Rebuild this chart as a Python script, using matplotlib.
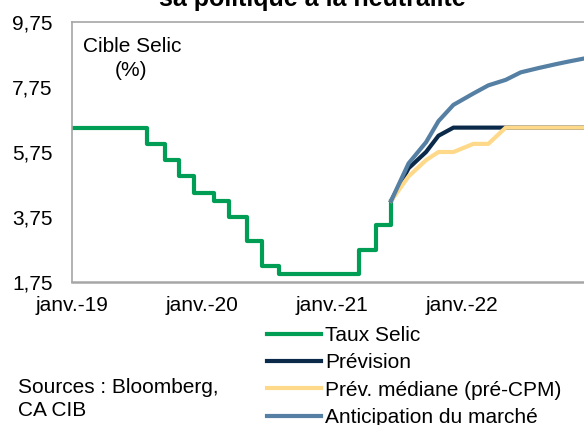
import matplotlib.pyplot as plt
import pandas as pd

plt.rcParams['font.family'] = ['Liberation Sans', 'DejaVu Sans']

# Taux Selic (decisions du Copom, en escalier)
selic_dates = ['2019-01-01', '2019-07-31', '2019-09-18', '2019-10-30', '2019-12-11',
               '2020-02-05', '2020-03-18', '2020-05-06', '2020-06-17', '2020-08-05',
               '2021-03-17', '2021-05-05', '2021-06-16']
selic = [6.5, 6.0, 5.5, 5.0, 4.5, 4.25, 3.75, 3.0, 2.25, 2.0, 2.75, 3.5, 4.25]

# Trajectoires futures aux dates de reunions
fc_dates = ['2021-06-16', '2021-08-04', '2021-09-22', '2021-10-27', '2021-12-08',
            '2022-02-02', '2022-03-16', '2022-05-04', '2022-06-15', '2022-08-03',
            '2022-09-21', '2022-10-26', '2022-12-07']
prevision = [4.25, 5.25, 5.75, 6.25, 6.5, 6.5, 6.5, 6.5, 6.5, 6.5, 6.5, 6.5, 6.5]
mediane = [4.25, 5.0, 5.5, 5.75, 5.75, 6.0, 6.0, 6.5, 6.5, 6.5, 6.5, 6.5, 6.5]
marche = [4.25, 5.4, 6.05, 6.7, 7.2, 7.55, 7.8, 7.97, 8.2, 8.33, 8.45, 8.53, 8.62]

yticks = [1.75, 3.75, 5.75, 7.75, 9.75]
xtick_dates = ['2019-01-01', '2020-01-01', '2021-01-01', '2022-01-01']
xtick_labels = ['janv.-19', 'janv.-20', 'janv.-21', 'janv.-22']

fig = plt.figure(figsize=(5.84, 4.25), dpi=100)
ax = fig.add_axes([72 / 584, 1 - 282 / 425, 1 - 72 / 584, 260 / 425])

sd = pd.to_datetime(selic_dates)
fd = pd.to_datetime(fc_dates)

ax.plot(sd, selic, drawstyle='steps-post', color='#009e55', lw=3, label='Taux Selic')
ax.plot(fd, prevision, color='#0b2a4a', lw=3, label='Prévision')
ax.plot(fd, mediane, color='#ffd98a', lw=3, label='Prév. médiane (pré-CPM)')
ax.plot(fd, marche, color='#5580a3', lw=3, label='Anticipation du marché')

ax.set_xlim(pd.Timestamp('2019-01-01'), pd.Timestamp('2022-12-10'))
ax.set_ylim(1.75, 9.75)
ax.set_yticks(yticks)
ax.set_yticklabels([f'{v:.2f}'.replace('.', ',') for v in yticks])
ax.set_xticks(pd.to_datetime(xtick_dates))
ax.set_xticklabels(xtick_labels)
ax.tick_params(length=0, labelsize=15)
ax.tick_params(axis='y', pad=14)
ax.tick_params(axis='x', pad=10)

for s in ['left', 'bottom', 'top']:
    ax.spines[s].set_color('#a6a6a6')
    ax.spines[s].set_linewidth(1.2)
ax.spines['bottom'].set_linewidth(1.8)
ax.spines['right'].set_visible(False)

fig.text(83 / 584, 1 - 46 / 425, 'Cible Selic', fontsize=15, ha='left', va='center')
fig.text(131 / 584, 1 - 71 / 425, '(%)', fontsize=15, ha='center', va='center')

fig.text(312 / 584, 1 - 6 / 425, 'sa politique à la neutralité', fontsize=18,
         fontweight='bold', ha='center', va='baseline')

fig.text(18 / 584, 1 - 378 / 425, 'Sources : Bloomberg,\nCA CIB', fontsize=15,
         ha='left', va='top', linespacing=1.25)

fig.legend(loc='upper left', bbox_to_anchor=(267 / 584, 1 - 326 / 425), frameon=False,
           fontsize=15, handlelength=2.6, handletextpad=0.2, labelspacing=0.4,
           borderpad=0, borderaxespad=0)

fig.savefig('out.png', dpi=100)
